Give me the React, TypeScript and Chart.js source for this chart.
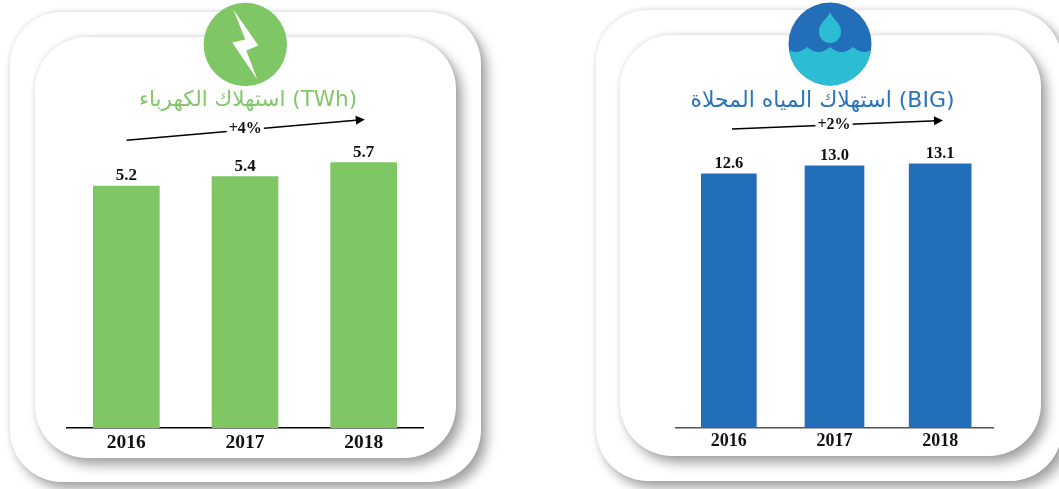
import React, { useEffect, useRef } from "react";
import { Chart, registerables } from "chart.js";

Chart.register(...registerables);

const years = ["2016", "2017", "2018"];
const electricityValues = [5.2, 5.4, 5.7];
const waterValues = [12.6, 13.0, 13.1];
const electricityTitle = "استهلاك الكهرباء (TWh)";
const waterTitle = "استهلاك المياه المحلاة (BIG)";
const electricityGrowth = "+4%";
const waterGrowth = "+2%";

const GREEN = "#7FC665";
const BLUE = "#236EB8";
const AQUA = "#2CBCD4";
const SERIF = '"Liberation Serif", serif';
const ARABIC = '"DejaVu Sans", sans-serif';

function drawBolt(ctx: CanvasRenderingContext2D, cx: number, cy: number) {
  ctx.fillStyle = "#fff";
  ctx.beginPath();
  [[-12, -35], [13, 1], [1, 6], [12, 35], [-13, -2], [0, -5]].forEach(([dx, dy], i) =>
    i ? ctx.lineTo(cx + dx, cy + dy) : ctx.moveTo(cx + dx, cy + dy)
  );
  ctx.closePath();
  ctx.fill();
}

function drawWater(ctx: CanvasRenderingContext2D, cx: number, cy: number, r: number) {
  ctx.save();
  ctx.beginPath();
  ctx.arc(cx, cy, r, 0, Math.PI * 2);
  ctx.clip();
  ctx.fillStyle = AQUA;
  ctx.beginPath();
  ctx.moveTo(cx - 46, cy + 3);
  ctx.quadraticCurveTo(cx - 34.5, cy + 13, cx - 23, cy + 3);
  ctx.quadraticCurveTo(cx - 11.5, cy + 13, cx, cy + 3);
  ctx.quadraticCurveTo(cx + 11.5, cy + 13, cx + 23, cy + 3);
  ctx.quadraticCurveTo(cx + 34.5, cy + 13, cx + 46, cy + 3);
  ctx.lineTo(cx + r + 6, cy + r + 1);
  ctx.lineTo(cx - r - 6, cy + r + 1);
  ctx.closePath();
  ctx.fill();
  ctx.beginPath();
  ctx.moveTo(cx, cy - 32);
  ctx.bezierCurveTo(cx + 3, cy - 24, cx + 11, cy - 22, cx + 11, cy - 12);
  ctx.arc(cx, cy - 12, 11, 0, Math.PI);
  ctx.bezierCurveTo(cx - 11, cy - 22, cx - 3, cy - 24, cx, cy - 32);
  ctx.fill();
  ctx.restore();
}

type PanelProps = {
  left: number;
  width: number;
  outer: number[];
  inner: number[];
  values: number[];
  color: string;
  titleText: string;
  titleShift: number;
  titleSize: number;
  growth: string;
  arrow: number[];
  labelAt: number[];
  icon: number[];
  iconKind: "bolt" | "water";
  yMax: number;
  area: number[];
  barWidths: number[];
  axisColor: string;
  tickSize: number;
  valueSize: number;
  titleColor: string;
};

function Card({ box }: { box: number[] }) {
  return (
    <div
      style={{
        position: "absolute",
        left: box[0],
        top: box[1],
        width: box[2] - box[0],
        height: box[3] - box[1],
        background: "#fff",
        borderRadius: 52,
        boxShadow: "6px 7px 12px rgba(0,0,0,0.36), 0 -1px 5px rgba(0,0,0,0.10)",
      }}
    />
  );
}

function Panel(p: PanelProps) {
  const ref = useRef<HTMLCanvasElement | null>(null);
  useEffect(() => {
    if (!ref.current) return;
    const decorations = {
      id: "decorations",
      afterLayout(chart: any) {
        chart.titleBlock.left += p.titleShift;
        chart.titleBlock.right += p.titleShift;
      },
      beforeDatasetsDraw(chart: any) {
        chart.getDatasetMeta(0).data.forEach((bar: any, i: number) => {
          bar.width = p.barWidths[i];
        });
      },
      afterDatasetsDraw(chart: any) {
        const ctx = chart.ctx as CanvasRenderingContext2D;
        ctx.save();
        // value labels
        ctx.fillStyle = "#111";
        ctx.textAlign = "center";
        ctx.textBaseline = "bottom";
        ctx.font = `bold ${p.valueSize}px ${SERIF}`;
        chart.getDatasetMeta(0).data.forEach((bar: any, i: number) => {
          ctx.fillText(p.values[i].toFixed(1), bar.x, bar.y - 2);
        });
        // growth arrow
        const [x1, y1, x2, y2] = p.arrow;
        const ang = Math.atan2(y2 - y1, x2 - x1);
        ctx.strokeStyle = "#000";
        ctx.fillStyle = "#000";
        ctx.lineWidth = 1.6;
        ctx.beginPath();
        ctx.moveTo(x1, y1);
        ctx.lineTo(x2 - 6 * Math.cos(ang), y2 - 6 * Math.sin(ang));
        ctx.stroke();
        ctx.beginPath();
        ctx.moveTo(x2, y2);
        ctx.lineTo(x2 - 9 * Math.cos(ang) + 4.5 * Math.sin(ang), y2 - 9 * Math.sin(ang) - 4.5 * Math.cos(ang));
        ctx.lineTo(x2 - 9 * Math.cos(ang) - 4.5 * Math.sin(ang), y2 - 9 * Math.sin(ang) + 4.5 * Math.cos(ang));
        ctx.closePath();
        ctx.fill();
        ctx.font = `bold 16px ${SERIF}`;
        ctx.textBaseline = "middle";
        const w = ctx.measureText(p.growth).width + 4;
        ctx.fillStyle = "#fff";
        ctx.fillRect(p.labelAt[0] - w / 2, p.labelAt[1] - 8, w, 16);
        ctx.fillStyle = "#111";
        ctx.fillText(p.growth, p.labelAt[0], p.labelAt[1]);
        // icon
        const [cx, cy, r] = p.icon;
        ctx.fillStyle = p.color;
        ctx.beginPath();
        ctx.arc(cx, cy, r, 0, Math.PI * 2);
        ctx.fill();
        if (p.iconKind === "bolt") drawBolt(ctx, cx, cy);
        else drawWater(ctx, cx, cy, r);
        ctx.restore();
      },
    };
    const chart = new Chart(ref.current, {
      type: "bar",
      data: {
        labels: years,
        datasets: [{ data: p.values, backgroundColor: p.color, barThickness: 60 }],
      },
      options: {
        animation: false,
        responsive: false,
        layout: {
          padding: { left: p.area[0], right: p.width - p.area[1], top: 0, bottom: 25 },
        },
        plugins: {
          legend: { display: false },
          tooltip: { enabled: false },
          title: {
            display: true,
            text: p.titleText,
            color: p.titleColor,
            font: { family: ARABIC, size: p.titleSize, weight: "normal" },
            padding: { top: 88, bottom: 7 },
          },
        },
        scales: {
          x: {
            afterFit(scale: any) {
              scale.height = 36;
            },
            grid: { display: false, drawTicks: false, tickLength: 0 },
            border: { color: p.axisColor, width: 1.5 },
            ticks: {
              color: "#111",
              padding: 3,
              font: { family: SERIF, size: p.tickSize, weight: "bold" },
              maxRotation: 0,
            },
          },
          y: { display: false, min: 0, max: p.yMax },
        },
      },
      plugins: [decorations],
    } as any);
    return () => chart.destroy();
  }, []);
  return (
    <>
      <Card box={p.outer} />
      <Card box={p.inner} />
      <canvas
        ref={ref}
        width={p.width}
        height={489}
        style={{ position: "absolute", left: p.left, top: 0, width: p.width, height: 489 }}
      />
    </>
  );
}

export default function App() {
  return (
    <div style={{ position: "fixed", left: 0, top: 0, width: 1059, height: 489, overflow: "hidden", background: "#fff" }}>
      <Panel
        left={0}
        width={530}
        outer={[10, 12, 481, 482]}
        inner={[35, 37, 456, 458]}
        values={electricityValues}
        color={GREEN}
        titleColor="#82C76A"
        titleText={electricityTitle}
        titleShift={3}
        titleSize={21.5}
        growth={electricityGrowth}
        arrow={[126.6, 140.3, 364.8, 119.5]}
        labelAt={[245.3, 129]}
        icon={[245.3, 44.5, 41.7]}
        iconKind="bolt"
        yMax={6.6}
        area={[67, 423]}
        barWidths={[66, 66, 66]}
        axisColor="#000"
        tickSize={19.5}
        valueSize={17}
      />
      <Panel
        left={530}
        width={529}
        outer={[596, 10, 1062, 481]}
        inner={[620, 35, 1041, 456]}
        values={waterValues}
        color={BLUE}
        titleColor="#2A74BC"
        titleText={waterTitle}
        titleShift={-12}
        titleSize={22}
        growth={waterGrowth}
        arrow={[202, 129, 413, 120.5]}
        labelAt={[304, 124.5]}
        icon={[300, 44, 41.5]}
        iconKind="water"
        yMax={15.2}
        area={[146, 463]}
        barWidths={[55, 59, 62]}
        axisColor="#555"
        tickSize={18}
        valueSize={16.5}
      />
    </div>
  );
}
